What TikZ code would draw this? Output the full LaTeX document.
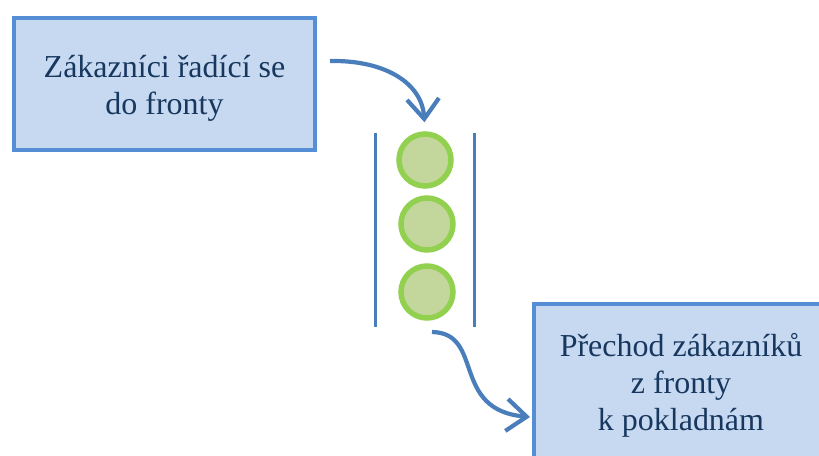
\documentclass[tikz,border=0pt]{standalone}
\usepackage{fontspec}
\setmainfont{Liberation Serif}
\usetikzlibrary{arrows.meta,positioning}
\definecolor{QBoxFill}{HTML}{C6D9F1}
\definecolor{QBoxLine}{HTML}{558ED5}
\definecolor{QFlow}{HTML}{4A7EBB}
\definecolor{QText}{HTML}{17375E}
\definecolor{QGreen}{HTML}{92D050}
\definecolor{QGreenFill}{HTML}{C3D69B}

\begin{document}
\begin{tikzpicture}[
          >={Straight Barb[length=2mm,width=3.2mm]},
          stage/.style={draw=QBoxLine,fill=QBoxFill,line width=0.04cm,
            text=QText,align=center,inner sep=0pt,
            font=\fontsize{9.1pt}{10.5pt}\selectfont},
          wall/.style={draw=QFlow,line width=0.03cm},
          customer/.style={circle,draw=QGreen,fill=QGreenFill,
            line width=0.055cm,minimum size=0.52cm,inner sep=0pt},
          flow/.style={->,draw=QFlow,line width=0.042cm}
        ]
        \path[use as bounding box] (0,0) rectangle (8.19,4.55);
        \clip (0,0) rectangle (8.19,4.55);

        \node[stage,minimum width=3.01cm,minimum height=1.32cm]
          (arrive) at (1.645,3.71)
          {\rule{0pt}{0.31cm}Zákazníci řadící se\\do fronty};
        \node[stage,minimum width=2.94cm,minimum height=1.62cm]
          (leave) at (6.81,0.70) {Přechod zákazníků\\z fronty\\k pokladnám};

        % queue
        \coordinate (wallLt) at (3.75,3.22);
        \coordinate (wallLb) at (3.75,1.28);
        \coordinate (wallRt) at (4.74,3.22);
        \coordinate (wallRb) at (4.74,1.28);
        \draw[wall] (wallLt) -- (wallLb);
        \draw[wall] (wallRt) -- (wallRb);
        \node[customer] (c1) at (4.25,2.95) {};
        \node[customer] (c2) at (4.27,2.31) {};
        \node[customer] (c3) at (4.27,1.63) {};

        % flows in and out
        \coordinate (inStart) at (3.30,3.94);
        \coordinate (outStart) at (4.32,1.23);
        \coordinate (outEnd) at (5.30,0.38);
        \draw[flow,shorten >=0.09cm] (inStart)
          .. controls (3.85,3.95) and (4.22,3.72) .. (c1.north);
        \draw[flow] (outStart)
          .. controls (4.85,1.22) and (4.50,0.45) .. (outEnd);
      \end{tikzpicture}
\end{document}
